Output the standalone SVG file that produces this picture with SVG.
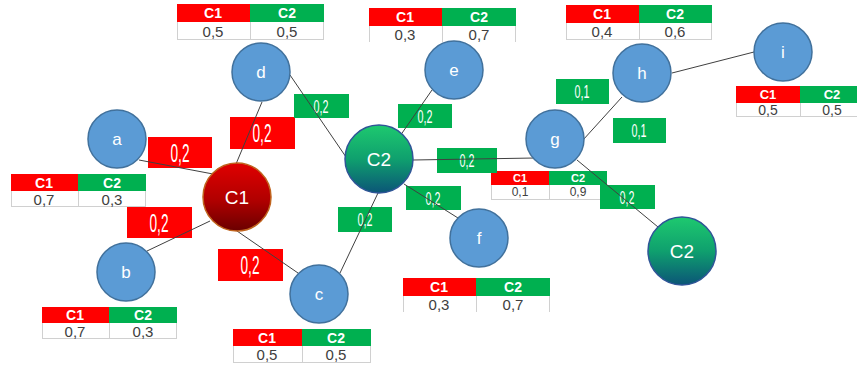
<svg xmlns="http://www.w3.org/2000/svg" width="857" height="367" viewBox="0 0 857 367">
<defs>
<linearGradient id="gRed" x1="0" y1="0" x2="0" y2="1">
<stop offset="0" stop-color="#e00000"/><stop offset="0.55" stop-color="#b00000"/><stop offset="1" stop-color="#6a0000"/>
</linearGradient>
<linearGradient id="gGreen" x1="0" y1="0" x2="0" y2="1">
<stop offset="0" stop-color="#1ec96f"/><stop offset="0.5" stop-color="#0fa06e"/><stop offset="1" stop-color="#0b5577"/>
</linearGradient>
</defs>
<style>
.edge{stroke:#404040;stroke-width:1;fill:none}
.leaf{fill:#5b9bd5;stroke:#41719c;stroke-width:1.5}
.nt{fill:#fff;font-family:"Liberation Sans",Arial,sans-serif;font-size:17px;text-anchor:middle;dominant-baseline:central}
.bt{fill:#fff;font-family:"Liberation Sans",Arial,sans-serif;font-size:19px;text-anchor:middle;dominant-baseline:central}
.rl{fill:#ff0000}
.gl{fill:#00b050}
.lt{fill:#fff;font-family:"Liberation Sans",Arial,sans-serif;text-anchor:middle;dominant-baseline:central}
.big{font-size:25px}
.sm{font-size:19px}
.hc1{fill:#ff0000}
.hc2{fill:#00b050}
.ht{fill:#fff;font-family:"Liberation Sans",Arial,sans-serif;font-weight:bold;font-size:14px;text-anchor:middle;dominant-baseline:central}
.vt{fill:#404040;font-family:"Liberation Sans",Arial,sans-serif;font-size:15px;text-anchor:middle;dominant-baseline:central}
.grid{stroke:#d0d0d0;stroke-width:1;fill:none}
</style>
<rect width="857" height="367" fill="#fff"/>

<g id="table-a">
<rect class="hc1" x="11" y="174" width="67" height="17"/><rect class="hc2" x="78" y="174" width="68" height="17"/>
<path class="grid" d="M11.5 191V207M78.5 191V207M145.5 191V207M11 206.5H146"/>
<text class="ht" x="44" y="183">C1</text><text class="ht" x="112" y="183">C2</text>
<text class="vt" x="44" y="199">0,7</text><text class="vt" x="112" y="199">0,3</text>
</g>
<g id="table-b">
<rect class="hc1" x="42" y="307" width="67" height="16"/><rect class="hc2" x="109" y="307" width="68" height="16"/>
<path class="grid" d="M42.5 323V339M109.5 323V339M176.5 323V339M42 338.5H177"/>
<text class="ht" x="75" y="315">C1</text><text class="ht" x="143" y="315">C2</text>
<text class="vt" x="75" y="331">0,7</text><text class="vt" x="143" y="331">0,3</text>
</g>
<g id="table-c">
<rect class="hc1" x="233" y="329" width="69" height="17"/><rect class="hc2" x="302" y="329" width="69" height="17"/>
<path class="grid" d="M233.5 346V363M302.5 346V363M370.5 346V363M233 362.5H371"/>
<text class="ht" x="267" y="338">C1</text><text class="ht" x="336" y="338">C2</text>
<text class="vt" x="267" y="354">0,5</text><text class="vt" x="336" y="354">0,5</text>
</g>
<g id="table-d">
<rect class="hc1" x="177" y="4" width="73" height="18"/><rect class="hc2" x="250" y="4" width="74" height="18"/>
<path class="grid" d="M177.5 22V40M250.5 22V40M323.5 22V40M177 39.5H324"/>
<text class="ht" x="213" y="13">C1</text><text class="ht" x="287" y="13">C2</text>
<text class="vt" x="213" y="31">0,5</text><text class="vt" x="287" y="31">0,5</text>
</g>
<g id="table-e">
<rect class="hc1" x="369" y="8" width="73" height="18"/><rect class="hc2" x="442" y="8" width="74" height="18"/>
<path class="grid" d="M369.5 26V42M442.5 26V42M515.5 26V42"/>
<text class="ht" x="405" y="17">C1</text><text class="ht" x="479" y="17">C2</text>
<text class="vt" x="405" y="34">0,3</text><text class="vt" x="479" y="34">0,7</text>
</g>
<g id="table-f">
<rect class="hc1" x="403" y="278" width="73" height="18"/><rect class="hc2" x="476" y="278" width="74" height="18"/>
<path class="grid" d="M403.5 296V312M476.5 296V312M549.5 296V312"/>
<text class="ht" x="439" y="287">C1</text><text class="ht" x="513" y="287">C2</text>
<text class="vt" x="439" y="304">0,3</text><text class="vt" x="513" y="304">0,7</text>
</g>
<g id="table-g">
<rect class="hc1" x="491" y="171" width="58" height="14"/><rect class="hc2" x="549" y="171" width="58" height="14"/>
<path class="grid" d="M491.5 185V200M549.5 185V200M606.5 185V200M491 199.5H607"/>
<text class="ht" x="520" y="178" style="font-size:11px">C1</text><text class="ht" x="578" y="178" style="font-size:11px">C2</text>
<text class="vt" x="520" y="192" style="font-size:12px">0,1</text><text class="vt" x="578" y="192" style="font-size:12px">0,9</text>
</g>
<g id="table-h">
<rect class="hc1" x="566" y="5" width="73" height="18"/><rect class="hc2" x="639" y="5" width="73" height="18"/>
<path class="grid" d="M566.5 23V40M639.5 23V40M711.5 23V40M566 39.5H712"/>
<text class="ht" x="602" y="14">C1</text><text class="ht" x="675" y="14">C2</text>
<text class="vt" x="602" y="31">0,4</text><text class="vt" x="675" y="31">0,6</text>
</g>
<g id="table-i">
<rect class="hc1" x="736" y="86" width="64" height="17"/><rect class="hc2" x="800" y="86" width="57" height="17"/>
<path class="grid" d="M736.5 103V117M800.5 103V117M736 116.5H857"/>
<text class="ht" x="768" y="94.5" style="font-size:13px">C1</text><text class="ht" x="832" y="94.5" style="font-size:13px">C2</text>
<text class="vt" x="768" y="110" style="font-size:14px">0,5</text><text class="vt" x="832" y="110" style="font-size:14px">0,5</text>
</g>

<g id="edge-labels">
<rect class="rl" x="148" y="137" width="64" height="31"/><text class="lt big" x="180" y="153" textLength="19" lengthAdjust="spacingAndGlyphs">0,2</text>
<rect class="rl" x="230" y="117" width="65" height="32"/><text class="lt big" x="262" y="133" textLength="19" lengthAdjust="spacingAndGlyphs">0,2</text>
<rect class="rl" x="127" y="207" width="65" height="31"/><text class="lt big" x="159" y="223" textLength="19" lengthAdjust="spacingAndGlyphs">0,2</text>
<rect class="rl" x="218" y="249" width="65" height="32"/><text class="lt big" x="250" y="265" textLength="19" lengthAdjust="spacingAndGlyphs">0,2</text>
<rect class="gl" x="294" y="94" width="55" height="24"/><text class="lt sm" x="321" y="106" textLength="15" lengthAdjust="spacingAndGlyphs">0,2</text>
<rect class="gl" x="398" y="104" width="54" height="24"/><text class="lt sm" x="425" y="116" textLength="15" lengthAdjust="spacingAndGlyphs">0,2</text>
<rect class="gl" x="437" y="148" width="60" height="25"/><text class="lt sm" x="467" y="160" textLength="15" lengthAdjust="spacingAndGlyphs">0,2</text>
<rect class="gl" x="406" y="186" width="55" height="24"/><text class="lt sm" x="433" y="198" textLength="15" lengthAdjust="spacingAndGlyphs">0,2</text>
<rect class="gl" x="338" y="207" width="54" height="25"/><text class="lt sm" x="365" y="219" textLength="15" lengthAdjust="spacingAndGlyphs">0,2</text>
<rect class="gl" x="556" y="79" width="53" height="25"/><text class="lt sm" x="582" y="91" textLength="15" lengthAdjust="spacingAndGlyphs">0,1</text>
<rect class="gl" x="613" y="118" width="53" height="25"/><text class="lt sm" x="639" y="130" textLength="15" lengthAdjust="spacingAndGlyphs">0,1</text>
<rect class="gl" x="600" y="185" width="55" height="24"/><text class="lt sm" x="627" y="197" textLength="15" lengthAdjust="spacingAndGlyphs">0,2</text>
</g>

<g id="connectors">
<line class="edge" x1="139" y1="160" x2="213" y2="174"/>
<line class="edge" x1="262" y1="102" x2="236" y2="164"/>
<line class="edge" x1="147" y1="251" x2="210" y2="221"/>
<line class="edge" x1="237" y1="231" x2="298" y2="273"/>
<line class="edge" x1="290" y1="75" x2="346" y2="157"/>
<line class="edge" x1="432" y1="90" x2="400" y2="136"/>
<line class="edge" x1="404" y1="184" x2="458" y2="218"/>
<line class="edge" x1="340" y1="273" x2="378" y2="193"/>
<line class="edge" x1="413" y1="160" x2="535" y2="158"/>
<line class="edge" x1="583" y1="140" x2="622" y2="97"/>
<line class="edge" x1="672" y1="73" x2="754" y2="52"/>
<line class="edge" x1="577" y1="160" x2="658" y2="227"/>
</g>

<g id="node-a"><circle class="leaf" cx="117" cy="139" r="29"/><text class="nt" x="117" y="139">a</text></g>
<g id="node-b"><circle class="leaf" cx="126" cy="272" r="29"/><text class="nt" x="126" y="272">b</text></g>
<g id="node-c"><circle class="leaf" cx="319" cy="294" r="29"/><text class="nt" x="319" y="294">c</text></g>
<g id="node-d"><circle class="leaf" cx="261" cy="72" r="29"/><text class="nt" x="261" y="72">d</text></g>
<g id="node-e"><circle class="leaf" cx="454" cy="70" r="29"/><text class="nt" x="454" y="70">e</text></g>
<g id="node-f"><circle class="leaf" cx="479" cy="238" r="29"/><text class="nt" x="479" y="238">f</text></g>
<g id="node-g"><circle class="leaf" cx="555" cy="139" r="29"/><text class="nt" x="555" y="139">g</text></g>
<g id="node-h"><circle class="leaf" cx="642" cy="73" r="29"/><text class="nt" x="642" y="73">h</text></g>
<g id="node-i"><circle class="leaf" cx="783" cy="52" r="29"/><text class="nt" x="783" y="52">i</text></g>
<g id="node-C1"><circle cx="237" cy="197" r="34" fill="url(#gRed)" stroke="#c0641e" stroke-width="1.5"/><text class="bt" x="237" y="197">C1</text></g>
<g id="node-C2a"><circle cx="379" cy="159" r="34" fill="url(#gGreen)" stroke="#2f5597" stroke-width="1.5"/><text class="bt" x="379" y="159">C2</text></g>
<g id="node-C2b"><circle cx="682" cy="251" r="34" fill="url(#gGreen)" stroke="#2f5597" stroke-width="1.5"/><text class="bt" x="682" y="251">C2</text></g>
</svg>
